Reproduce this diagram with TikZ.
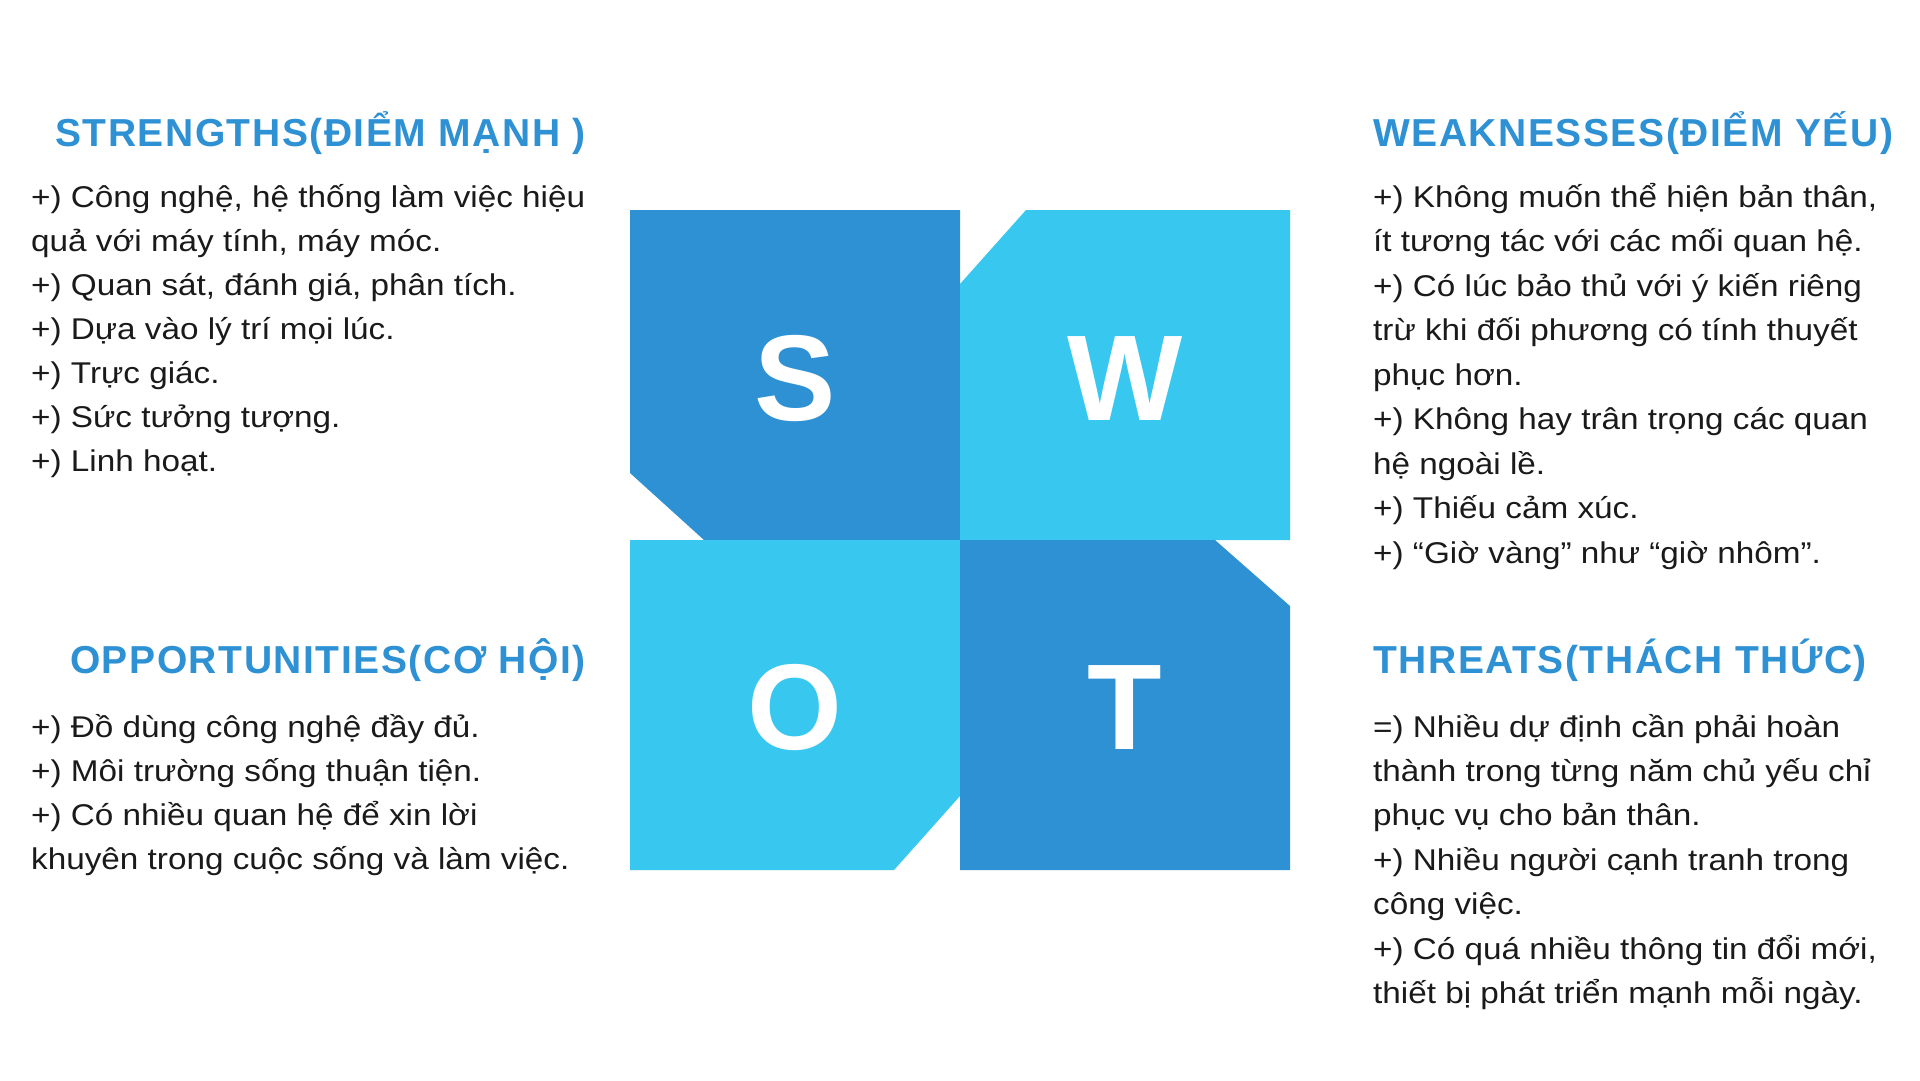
\documentclass[tikz,border=0pt]{standalone}
\usepackage{fontspec}
\usepackage{graphicx}
\setmainfont{Liberation Sans}
\newfontfamily\letterfont{Liberation Sans}
\newfontfamily\bodyfam{Liberation Sans}
\newfontfamily\headfam{Liberation Sans}[LetterSpace=4]
\definecolor{swotdark}{HTML}{2E91D4}
\definecolor{swotlight}{HTML}{38C7EF}
\definecolor{bodytext}{HTML}{1A1A1A}
\newlength\swotreflen
\begin{document}
% calibrate the body font to the reference line width
\settowidth\swotreflen{\bodyfam\fontsize{30}{30}\selectfont +) Công nghệ, hệ thống làm việc hiệu}%
\pgfmathsetmacro\bodyscale{554/\swotreflen}%
\begin{tikzpicture}[x=1pt,y=-1pt]
\tikzset{
  quadletter/.style={font=\letterfont\bfseries\fontsize{122}{122}\selectfont, text=white, inner sep=0pt, anchor=base},
  headtext/.style={font=\headfam\bfseries\fontsize{39}{39}\selectfont, text=swotdark, inner sep=0pt},
  bodyline/.style={font=\bodyfam\fontsize{30}{30}\selectfont, text=bodytext, inner sep=0pt, anchor=base west},
}
\useasboundingbox[fill=white] (0,0) rectangle (1920,1080);
% quadrants
\fill[swotdark] (630,210) -- (960,210) -- (960,540) -- (704,540) -- (630,473) -- cycle;
\fill[swotlight] (1026,210) -- (1290,210) -- (1290,540) -- (960,540) -- (960,284) -- cycle;
\fill[swotlight] (630,540) -- (960,540) -- (960,796) -- (894,870) -- (630,870) -- cycle;
\fill[swotdark] (960,540) -- (1215,540) -- (1290,606) -- (1290,870) -- (960,870) -- cycle;
\node[quadletter] (S) at (795,420) {S};
\node[quadletter] (W) at (1125,420) {W};
\node[quadletter] (O) at (795,749) {O};
\node[quadletter] (T) at (1125,749) {T};
% headings
\node[headtext, anchor=base east] (sh) at (586,146) {STRENGTHS(ĐIỂM MẠNH )};
\node[headtext, anchor=base west] (wh) at (1373,146) {WEAKNESSES(ĐIỂM YẾU)};
\node[headtext, anchor=base east] (oh) at (586,673) {OPPORTUNITIES(CƠ HỘI)};
\node[headtext, anchor=base west] (th) at (1373,673) {THREATS(THÁCH THỨC)};
% bodies
\foreach \t [count=\i from 0] in {
  {+) Công nghệ, hệ thống làm việc hiệu},
  {quả với máy tính, máy móc.},
  {+) Quan sát, đánh giá, phân tích.},
  {+) Dựa vào lý trí mọi lúc.},
  {+) Trực giác.},
  {+) Sức tưởng tượng.},
  {+) Linh hoạt.}}
  \node[bodyline] (sl\i) at (31,207+44*\i) {\scalebox{\bodyscale}[1]{\t}};
\foreach \t [count=\i from 0] in {
  {+) Không muốn thể hiện bản thân,},
  {ít tương tác với các mối quan hệ.},
  {+) Có lúc bảo thủ với ý kiến riêng},
  {trừ khi đối phương có tính thuyết},
  {phục hơn.},
  {+) Không hay trân trọng các quan},
  {hệ ngoài lề.},
  {+) Thiếu cảm xúc.},
  {+) “Giờ vàng” như “giờ nhôm”.}}
  \node[bodyline] (wl\i) at (1373,207+44.5*\i) {\scalebox{\bodyscale}[1]{\t}};
\foreach \t [count=\i from 0] in {
  {+) Đồ dùng công nghệ đầy đủ.},
  {+) Môi trường sống thuận tiện.},
  {+) Có nhiều quan hệ để xin lời},
  {khuyên trong cuộc sống và làm việc.}}
  \node[bodyline] (ol\i) at (31,737+44*\i) {\scalebox{\bodyscale}[1]{\t}};
\foreach \t [count=\i from 0] in {
  {=) Nhiều dự định cần phải hoàn},
  {thành trong từng năm chủ yếu chỉ},
  {phục vụ cho bản thân.},
  {+) Nhiều người cạnh tranh trong},
  {công việc.},
  {+) Có quá nhiều thông tin đổi mới,},
  {thiết bị phát triển mạnh mỗi ngày.}}
  \node[bodyline] (tl\i) at (1373,737+44.4*\i) {\scalebox{\bodyscale}[1]{\t}};
\end{tikzpicture}
\end{document}
